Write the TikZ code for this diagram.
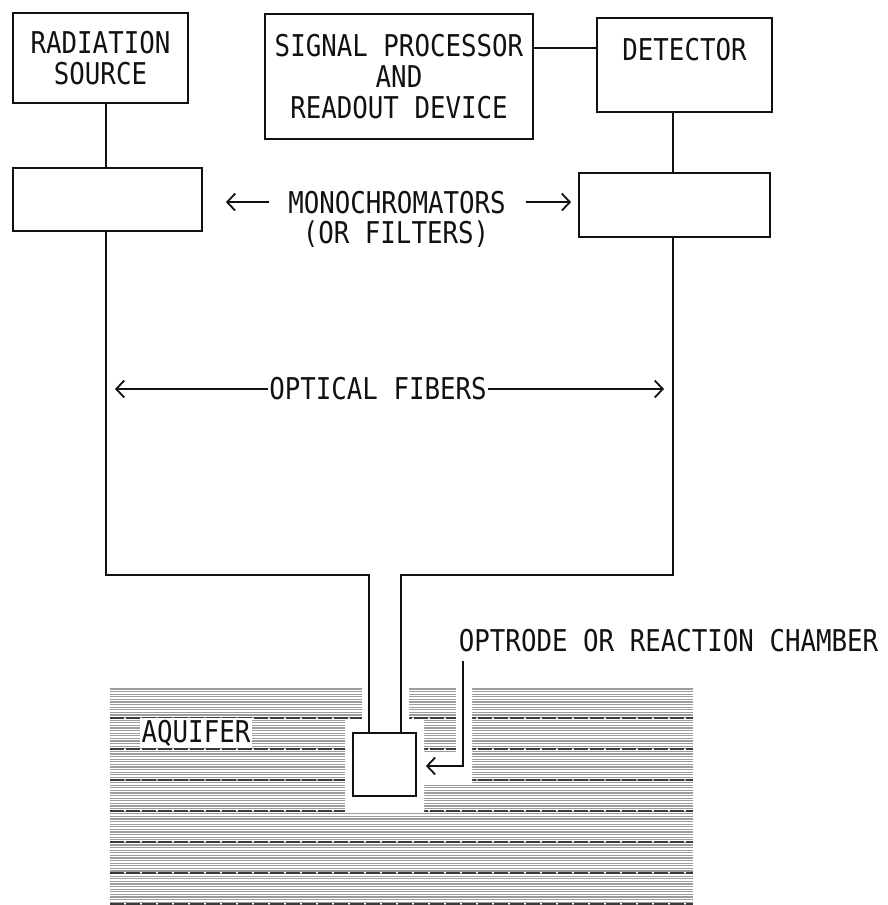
\documentclass[tikz,border=0pt]{standalone}
\usepackage{fontspec}
\usepackage{xcolor}
\usepackage{tikz}
\usetikzlibrary{arrows.meta,calc}
\newfontfamily\plotter[FakeStretch=0.86]{DejaVu Sans Mono}
\definecolor{ink}{HTML}{111111}
\definecolor{soil}{HTML}{9C9C9C}
\definecolor{soilrule}{HTML}{3A3A3A}

\begin{document}
\begin{tikzpicture}[x=1pt, y=-1pt, line width=1.8pt, ink,
  >={Straight Barb[length=8pt,width=17pt]},
  box/.style={draw=ink, rectangle, inner sep=0pt, align=center,
    font=\plotter\fontsize{30}{31}\selectfont},
  lbl/.style={ink, inner sep=0pt, align=center,
    font=\plotter\fontsize{30}{31}\selectfont}]
  \useasboundingbox (0,0) rectangle (888,905);

  % Aquifer -- fine grey streaks with darker rules
  \foreach \y in {689,691.6,...,905}
    \draw[soil, line width=1.3pt] (110,\y) -- (693,\y);
  \foreach \y in {718,749,...,905}
    \draw[soilrule, line width=1.5pt, dash pattern=on 14pt off 2pt] (110,\y) -- (693,\y);
  % cleared well round the chamber and the pointer
  \fill[white] (362,686) -- (409,686) -- (409,720) -- (424,720) -- (424,752)
    -- (456,752) -- (456,686) -- (472,686) -- (472,783) -- (424,783)
    -- (424,812) -- (345,812) -- (345,720) -- (362,720) -- cycle;
  \node[lbl, fill=white, inner sep=2pt, anchor=base] (aquifer) at (196,742) {AQUIFER};

  % Boxes
  \node[box, minimum width=175pt, minimum height=90pt] (rad) at (100.5,58) {RADIATION\\SOURCE};
  \node[box, minimum width=268pt, minimum height=125pt] (sig) at (399,76.5)
    {SIGNAL PROCESSOR\\AND\\READOUT DEVICE};
  \node[box, minimum width=175pt, minimum height=94pt,
    label={[lbl, anchor=north, yshift=-20pt]north:DETECTOR}] (det) at (684.5,65) {};
  \node[box, minimum width=189pt, minimum height=63pt] (monoL) at (107.5,199.5) {};
  \node[box, minimum width=191pt, minimum height=64pt] (monoR) at (674.5,205) {};
  \node[box, minimum width=63pt, minimum height=63pt] (chamber) at (384.5,764.5) {};

  % Guide coordinates for the fibres
  \coordinate (fibL) at (106,0);
  \coordinate (fibR) at (673,0);
  \coordinate (inL) at (369,0);
  \coordinate (inR) at (401,0);
  \coordinate (bendY) at (0,575);
  \coordinate (linkY) at (0,48);

  % Links
  \draw (sig.east |- linkY) -- (det.west |- linkY);
  \draw (rad.south -| fibL) -- (monoL.north -| fibL);
  \draw (det.south -| fibR) -- (monoR.north -| fibR);

  % Optical fibres down to the chamber
  \draw (monoL.south -| fibL) -- (fibL |- bendY) -- (inL |- bendY) -- (chamber.north -| inL);
  \draw (monoR.south -| fibR) -- (fibR |- bendY) -- (inR |- bendY) -- (chamber.north -| inR);

  % Labels with pointers
  \node[lbl, anchor=base] (monoTxt) at (397,213) {MONOCHROMATORS};
  \node[lbl, anchor=base] (monoSub) at (396,243) {(OR FILTERS)};
  \draw[->] ([xshift=-18pt]monoTxt.west) -- ($(monoTxt.west -| monoL.east)+(23,0)$);
  \draw[->] ([xshift=19pt]monoTxt.east) -- ($(monoTxt.east -| monoR.west)+(-7,0)$);

  \node[lbl] (fibTxt) at (378,389) {OPTICAL FIBERS};
  \draw[->] (fibTxt.west) -- ($(fibTxt.west -| fibL)+(9,0)$);
  \draw[->] (fibTxt.east) -- ($(fibTxt.east -| fibR)+(-9,0)$);

  \node[lbl, anchor=base west] (optTxt) at (458,651) {OPTRODE OR REACTION CHAMBER};
  \coordinate (optBend) at (463,766);
  \draw[->] ($(optTxt.south -| optBend)+(0,9)$) -- (optBend) -- ($(optBend -| chamber.east)+(9,0)$);
\end{tikzpicture}
\end{document}
